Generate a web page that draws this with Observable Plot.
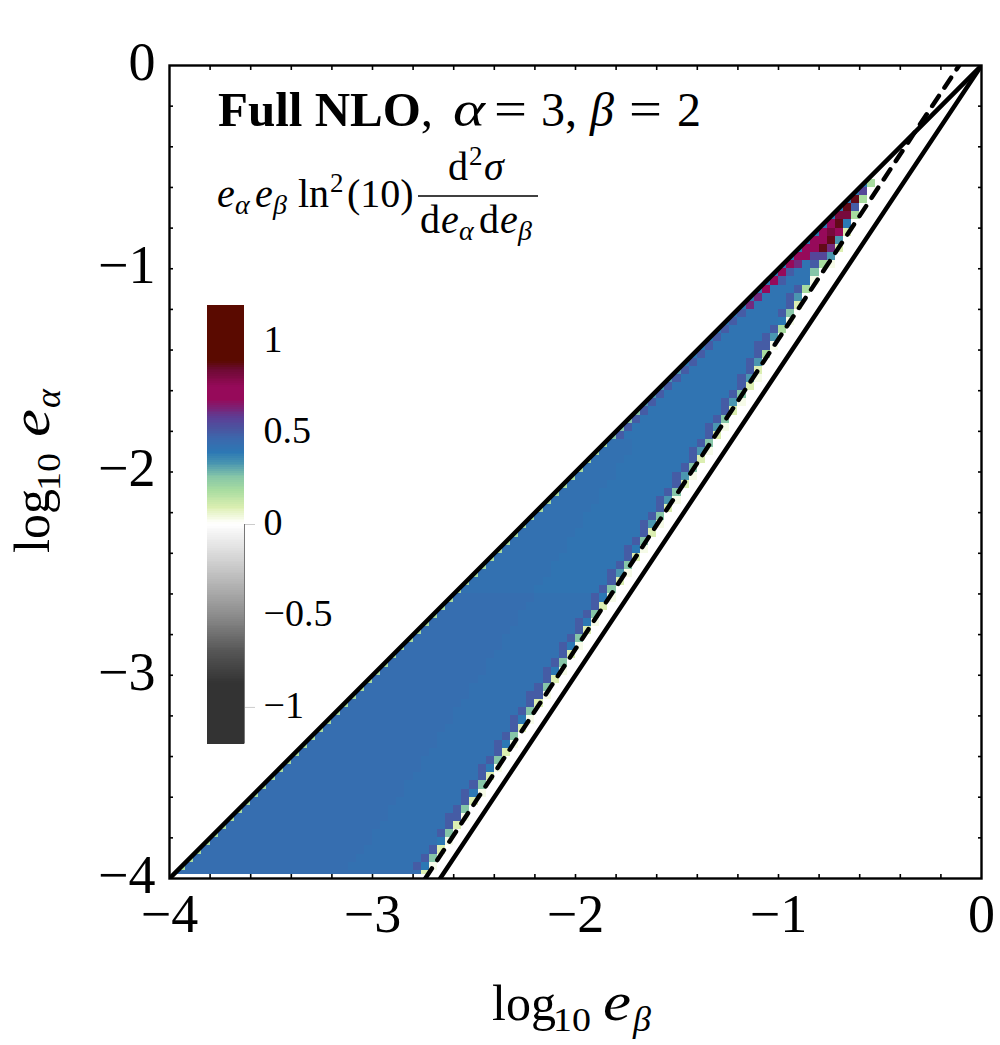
<!DOCTYPE html>
<html>
<head>
<meta charset="utf-8">
<script src="https://cdn.jsdelivr.net/npm/d3@7"></script>
<script src="https://cdn.jsdelivr.net/npm/@observablehq/plot@0.6"></script>
<style>
html,body{margin:0;padding:0;background:#fff}
#stage{position:relative;width:1000px;height:1045px;overflow:hidden}
#stage svg{position:absolute;left:0;top:0}
#notes text{font-family:"Liberation Serif",serif;fill:#000}
</style>
</head>
<body>
<div id="stage"></div>
<script>
// Heat-map levels: code letter -> value
const levelCodes  = ["p","g","h","t","T","B","c","a","b","i","v","u","m","d","r"];
const levelValues = [0.03,0.09,0.185,0.26,0.33,0.39,0.41,0.425,0.44,0.50,0.56,0.62,0.72,0.82,0.87];

// One run-length row per e_alpha bin (bottom to top); each row starts on the diagonal column
const heatRows = [
"b31 g","h b20 a8 i B p",
"h b20 a8 i t","h b20 a8 i g","h b20 a8 B p",
"h b19 a8 i t","h b19 a8 i g","h b19 a7 i i p",
"h b18 a8 i t","h b18 a8 i g","h b18 a7 i B p",
"h b17 a8 i t","h b17 a8 i g","h b17 a7 i B p",
"h b16 a8 i t","h b16 a8 i g","h b16 a7 i B p",
"h b15 a8 i t","h b15 a8 i g","h b15 a7 i B p",
"h b14 a8 i t","h b14 a8 i g","h b14 a7 i i p",
"h b13 a8 i t","h b13 a8 i g","h b13 a7 i B p",
"h b12 a8 i t","h b12 a8 i g","h b12 a7 i B p",
"h b11 a8 i t","h b11 a8 i g","h b11 a7 i B p",
"h b10 a8 i t","h b10 a8 i g","h b10 a7 i B p",
"h a9 c8 i t","h a9 c8 i g","h a9 c7 i T p",
"h a8 c8 i t","h a8 c8 i g","h a8 c7 i B p",
"h a7 c8 i t","h a7 c8 i g","h a7 c7 i T p",
"h a6 c8 i t","h a6 c8 i g","h a6 c7 i T p",
"h a5 c8 i t","h a5 c8 i g","h a5 c7 i T p",
"h a4 c8 i t","h a4 c8 i g","h a4 c7 i T p",
"h a3 c8 i t","t i c10 i g","t i c9 i T p",
"t i c9 i t","t i c9 i g","T i c8 i T p",
"T i c8 i t","T i c8 i g","T i c7 i T p",
"T i c7 i g","B i c6 i T","B i c6 i h",
"B i c5 i i p","B i c5 i T","B i c5 i h",
"B i c5 B p","B i c4 i t","B u c4 i g",
"B u c3 i T","B m c3 i h","B m i c3 p",
"B m i c2 t","B m u c i h p","B m m v v T",
"B m m r u g","B m m r T","B m d m g",
"B m r B","B d d h","B r i",
"B r h","B v","B h"
];

const binWidth = 0.04;
const axisMin = -4;
const firstRowFloor = -3.982;

// Boundary lines
const upperLineX = [-4, 0];
const upperLineY = [-4, 0];
const lowerLineX = [-2.667, 0];
const lowerLineY = [-4, 0];
const dashedLineX = [-2.74, -1.078, -0.31, -0.11];
const dashedLineY = [-4, -1.464, -0.30, 0];

// Axes
const majorTicks = [-4,-3,-2,-1,0];
const minorTicks = [-3.8,-3.6,-3.4,-3.2,-3,-2.8,-2.6,-2.4,-2.2,-2,-1.8,-1.6,-1.4,-1.2,-1,-0.8,-0.6,-0.4,-0.2];
const minusFormat = d => d < 0 ? "\u2212" + (-d) : String(d);

// Colour scale
const colorStops = [-1.2,-0.87,-0.7,-0.5,-0.25,0,0.03,0.09,0.185,0.26,0.33,0.39,0.46,0.52,0.58,0.68,0.75,0.85,0.89,1.2];
const colorRamp  = ["#333333","#333333","#555555","#8c8c8c","#c6c6c6","#ffffff","#f6fbe8","#dcefb2","#a8dca0","#86c6a8","#4a96b0","#2c78b4","#3a6aae","#4a55a0","#5b3f96","#960a5a","#960a5a","#6a0a30","#5a0a00","#5a0a00"];
const colorOptions = {type:"linear", domain:colorStops, range:colorRamp, clamp:true};
const barTicks = [1,0.5,0,-0.5,-1];
const barMarkedTicks = [0,-1];

const valueOf = Object.fromEntries(levelCodes.map((c,i)=>[c,levelValues[i]]));
const cells = [];
heatRows.forEach((row,j)=>{
  let col = j;
  row.split(" ").forEach(tok=>{
    const n = tok.length>1 ? +tok.slice(1) : 1;
    for(let k=0;k<n;k++,col++){
      cells.push({
        x1:axisMin+col*binWidth, x2:axisMin+(col+1)*binWidth,
        y1:j===0?firstRowFloor:axisMin+j*binWidth, y2:axisMin+(j+1)*binWidth,
        v:valueOf[tok[0]]
      });
    }
  });
});
const toLine = (xs,ys)=>xs.map((x,i)=>({x,y:ys[i]}));
const serif = '"Liberation Serif", serif';

const main = Plot.plot({
  width:1000, height:1045,
  marginLeft:169, marginRight:19, marginTop:65, marginBottom:167,
  style:{background:"transparent", fontFamily:serif, color:"#000"},
  x:{domain:[-4,0], label:null},
  y:{domain:[-4,0], label:null},
  color:colorOptions,
  marks:[
    Plot.rect(cells,{x1:"x1",x2:"x2",y1:"y1",y2:"y2",fill:"v",shapeRendering:"crispEdges"}),
    Plot.areaY(toLine(upperLineX,upperLineY),{x:"x",y1:"y",y2:0,fill:"#fff"}),
    Plot.axisX(minorTicks,{anchor:"bottom",tickSize:-4,tickFormat:()=>"",strokeWidth:1.6,stroke:"#000",label:null}),
    Plot.axisX(minorTicks,{anchor:"top",tickSize:-4,tickFormat:()=>"",strokeWidth:1.6,stroke:"#000",label:null}),
    Plot.axisY(minorTicks,{anchor:"left",tickSize:-4,tickFormat:()=>"",strokeWidth:1.6,stroke:"#000",label:null}),
    Plot.axisY(minorTicks,{anchor:"right",tickSize:-4,tickFormat:()=>"",strokeWidth:1.6,stroke:"#000",label:null}),
    Plot.axisX(majorTicks,{anchor:"bottom",tickSize:0,tickPadding:15,fontSize:54,tickFormat:minusFormat,label:null,fill:"#000"}),
    Plot.axisY(majorTicks,{anchor:"left",tickSize:0,tickPadding:14,fontSize:54,dy:-3,tickFormat:minusFormat,label:null,fill:"#000"}),
    Plot.line(toLine(upperLineX,upperLineY),{x:"x",y:"y",stroke:"#000",strokeWidth:4.5,clip:true}),
    Plot.line(toLine(lowerLineX,lowerLineY),{x:"x",y:"y",stroke:"#000",strokeWidth:4.5,clip:true}),
    Plot.line(toLine(dashedLineX,dashedLineY),{x:"x",y:"y",stroke:"#000",strokeWidth:4.5,strokeDasharray:"12,10",clip:true}),
    Plot.frame({stroke:"#000",strokeWidth:2.4})
  ]
});

const barSteps = d3.range(-120,120).map(i=>({lo:i/100,hi:(i+1)/100,v:(i+0.5)/100}));
const bar = Plot.plot({
  width:1000, height:1045,
  marginLeft:207, marginRight:756, marginTop:304.5, marginBottom:301.5,
  style:{background:"transparent", fontFamily:serif, color:"#000"},
  x:{domain:[0,1], axis:null},
  y:{domain:[-1.2,1.2], label:null, axis:null},
  color:colorOptions,
  marks:[
    Plot.rect(barSteps,{x1:0,x2:1,y1:"lo",y2:"hi",fill:"v",shapeRendering:"crispEdges"}),
    Plot.ruleX([1],{y1:0,y2:-1.2,stroke:"#777",strokeWidth:1}),
    Plot.axisY(barMarkedTicks,{anchor:"right",tickSize:10,stroke:"#ccc",strokeWidth:1,tickFormat:()=>"",label:null}),
    Plot.axisY(barTicks,{anchor:"right",tickSize:0,tickPadding:19,textAnchor:"start",fontSize:38,dy:-2,tickFormat:minusFormat,label:null,fill:"#000"})
  ]
});

const stage = document.getElementById("stage");
stage.append(main, bar);
stage.insertAdjacentHTML("beforeend", `
<svg id="notes" width="1000" height="1045" style="background:transparent">
  <text x="218" y="126" font-size="49" font-weight="bold">Full NLO<tspan font-weight="normal">,</tspan></text>
  <text x="453" y="126" font-size="50" font-style="italic" textLength="32" lengthAdjust="spacingAndGlyphs">α</text>
  <text x="494" y="126" font-size="50" textLength="33" lengthAdjust="spacingAndGlyphs">=</text>
  <text x="541" y="126" font-size="48">3,</text>
  <text x="590" y="126" font-size="48" font-style="italic">β</text>
  <text x="629" y="126" font-size="50" textLength="33" lengthAdjust="spacingAndGlyphs">=</text>
  <text x="677" y="126" font-size="48">2</text>

  <text x="217" y="207" font-size="40" font-style="italic">e</text>
  <text x="235" y="214" font-size="28" font-style="italic">α</text>
  <text x="255" y="207" font-size="40" font-style="italic">e</text>
  <text x="273" y="214" font-size="28" font-style="italic">β</text>
  <text x="298" y="207" font-size="40">ln</text>
  <text x="330" y="192" font-size="27">2</text>
  <text x="347" y="207" font-size="40">(10)</text>
  <line x1="418" x2="538" y1="196" y2="196" stroke="#000" stroke-width="1.6"/>
  <text x="448" y="180" font-size="40">d</text>
  <text x="469" y="165" font-size="27">2</text>
  <text x="484" y="180" font-size="40" font-style="italic">σ</text>
  <text x="420" y="233" font-size="40">d</text>
  <text x="441" y="233" font-size="40" font-style="italic">e</text>
  <text x="459" y="240" font-size="28" font-style="italic">α</text>
  <text x="479" y="233" font-size="40">d</text>
  <text x="500" y="233" font-size="40" font-style="italic">e</text>
  <text x="518" y="240" font-size="28" font-style="italic">β</text>

  <text x="492" y="1020" font-size="50">log</text>
  <text x="553" y="1031" font-size="34" textLength="38" lengthAdjust="spacingAndGlyphs">10</text>
  <text x="603" y="1020" font-size="54" font-style="italic" textLength="28" lengthAdjust="spacingAndGlyphs">e</text>
  <text x="633" y="1031" font-size="36" font-style="italic">β</text>

  <g transform="translate(49,553) rotate(-90)">
    <text x="0" y="0" font-size="50">log</text>
    <text x="62" y="11" font-size="34" textLength="38" lengthAdjust="spacingAndGlyphs">10</text>
    <text x="116" y="0" font-size="54" font-style="italic" textLength="28" lengthAdjust="spacingAndGlyphs">e</text>
    <text x="145" y="11" font-size="36" font-style="italic">α</text>
  </g>
</svg>`);
</script>
</body>
</html>
